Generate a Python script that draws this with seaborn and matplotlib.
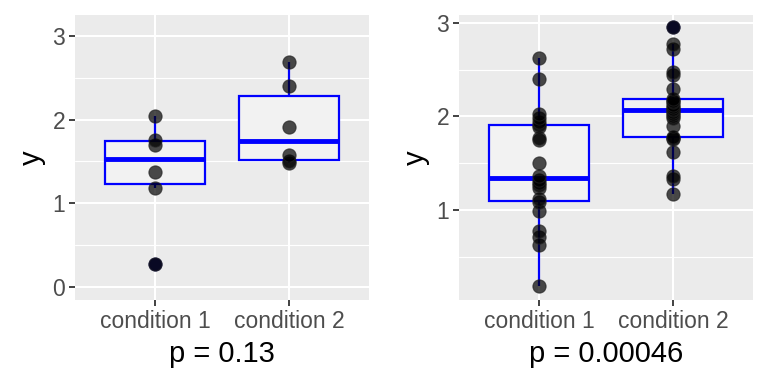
import pandas as pd
import numpy as np
import seaborn as sns
import matplotlib.pyplot as plt

# values
conditions = ['condition 1', 'condition 2']

left_c1 = [0.28, 1.18, 1.37, 1.70, 1.76, 2.04]
left_c2 = [1.48, 1.50, 1.58, 1.91, 2.40, 2.69]

right_c1 = [0.19, 0.63, 0.71, 0.78, 0.99, 1.09, 1.12, 1.23, 1.27, 1.29, 1.32,
            1.36, 1.50, 1.75, 1.77, 1.89, 1.91, 1.94, 1.98, 2.03, 2.40, 2.62]
right_c2 = [1.17, 1.33, 1.36, 1.62, 1.76, 1.77, 1.78, 1.90, 1.98, 2.01, 2.03,
            2.05, 2.07, 2.08, 2.10, 2.12, 2.15, 2.17, 2.19, 2.29, 2.44, 2.48,
            2.72, 2.77, 2.96]

p_labels = ['p = 0.13', 'p = 0.00046']

sns.set_theme(style='darkgrid')
plt.rcParams['font.family'] = ['Liberation Sans', 'DejaVu Sans']

fig = plt.figure(figsize=(7.68, 3.84), dpi=100)
ax1 = fig.add_axes([75/768, 84/384, 294/768, 285/384])
ax2 = fig.add_axes([459/768, 84/384, 294/768, 285/384])


def make_df(a, b):
    return pd.DataFrame({'x': [conditions[0]]*len(a) + [conditions[1]]*len(b),
                         'y': a + b})


def draw(ax, df, ylim, yticks, minor, xlabel):
    ax.set_facecolor('#EBEBEB')
    sns.boxplot(data=df, x='x', y='y', ax=ax, width=0.75, color='#F2F2F2',
                linecolor='blue', linewidth=1.6, showcaps=False,
                medianprops=dict(color='blue', linewidth=3.5),
                flierprops=dict(marker='o', markerfacecolor='#20207a',
                                markeredgecolor='#20207a', markersize=9),
                zorder=2)
    sns.stripplot(data=df, x='x', y='y', ax=ax, jitter=False, color='black',
                  alpha=0.7, size=9.5, linewidth=0.8, edgecolor='#222222',
                  zorder=3)
    ax.set_xlim(-0.6, 1.6)
    ax.set_ylim(*ylim)
    ax.set_yticks(yticks)
    ax.set_yticks(minor, minor=True)
    ax.grid(True, which='major', color='white', linewidth=1.5, zorder=0)
    ax.grid(True, which='minor', axis='y', color='white', linewidth=0.8,
            zorder=0)
    ax.set_axisbelow(True)
    for s in ax.spines.values():
        s.set_visible(False)
    ax.tick_params(axis='both', which='major', length=4, width=1.3,
                   color='#333333', labelcolor='#4D4D4D', labelsize=16.5,
                   pad=3, left=True, bottom=True)
    ax.tick_params(which='minor', length=0)
    ax.set_xlabel(xlabel, fontsize=21, color='black', labelpad=5)
    ax.set_ylabel('y', fontsize=21, color='black', labelpad=5)


draw(ax1, make_df(left_c1, left_c2), (-0.155, 3.25), [0, 1, 2, 3],
     [0.5, 1.5, 2.5], p_labels[0])
draw(ax2, make_df(right_c1, right_c2), (0.037, 3.085), [1, 2, 3],
     [0.5, 1.5, 2.5], p_labels[1])

fig.savefig('out.png', dpi=100)
